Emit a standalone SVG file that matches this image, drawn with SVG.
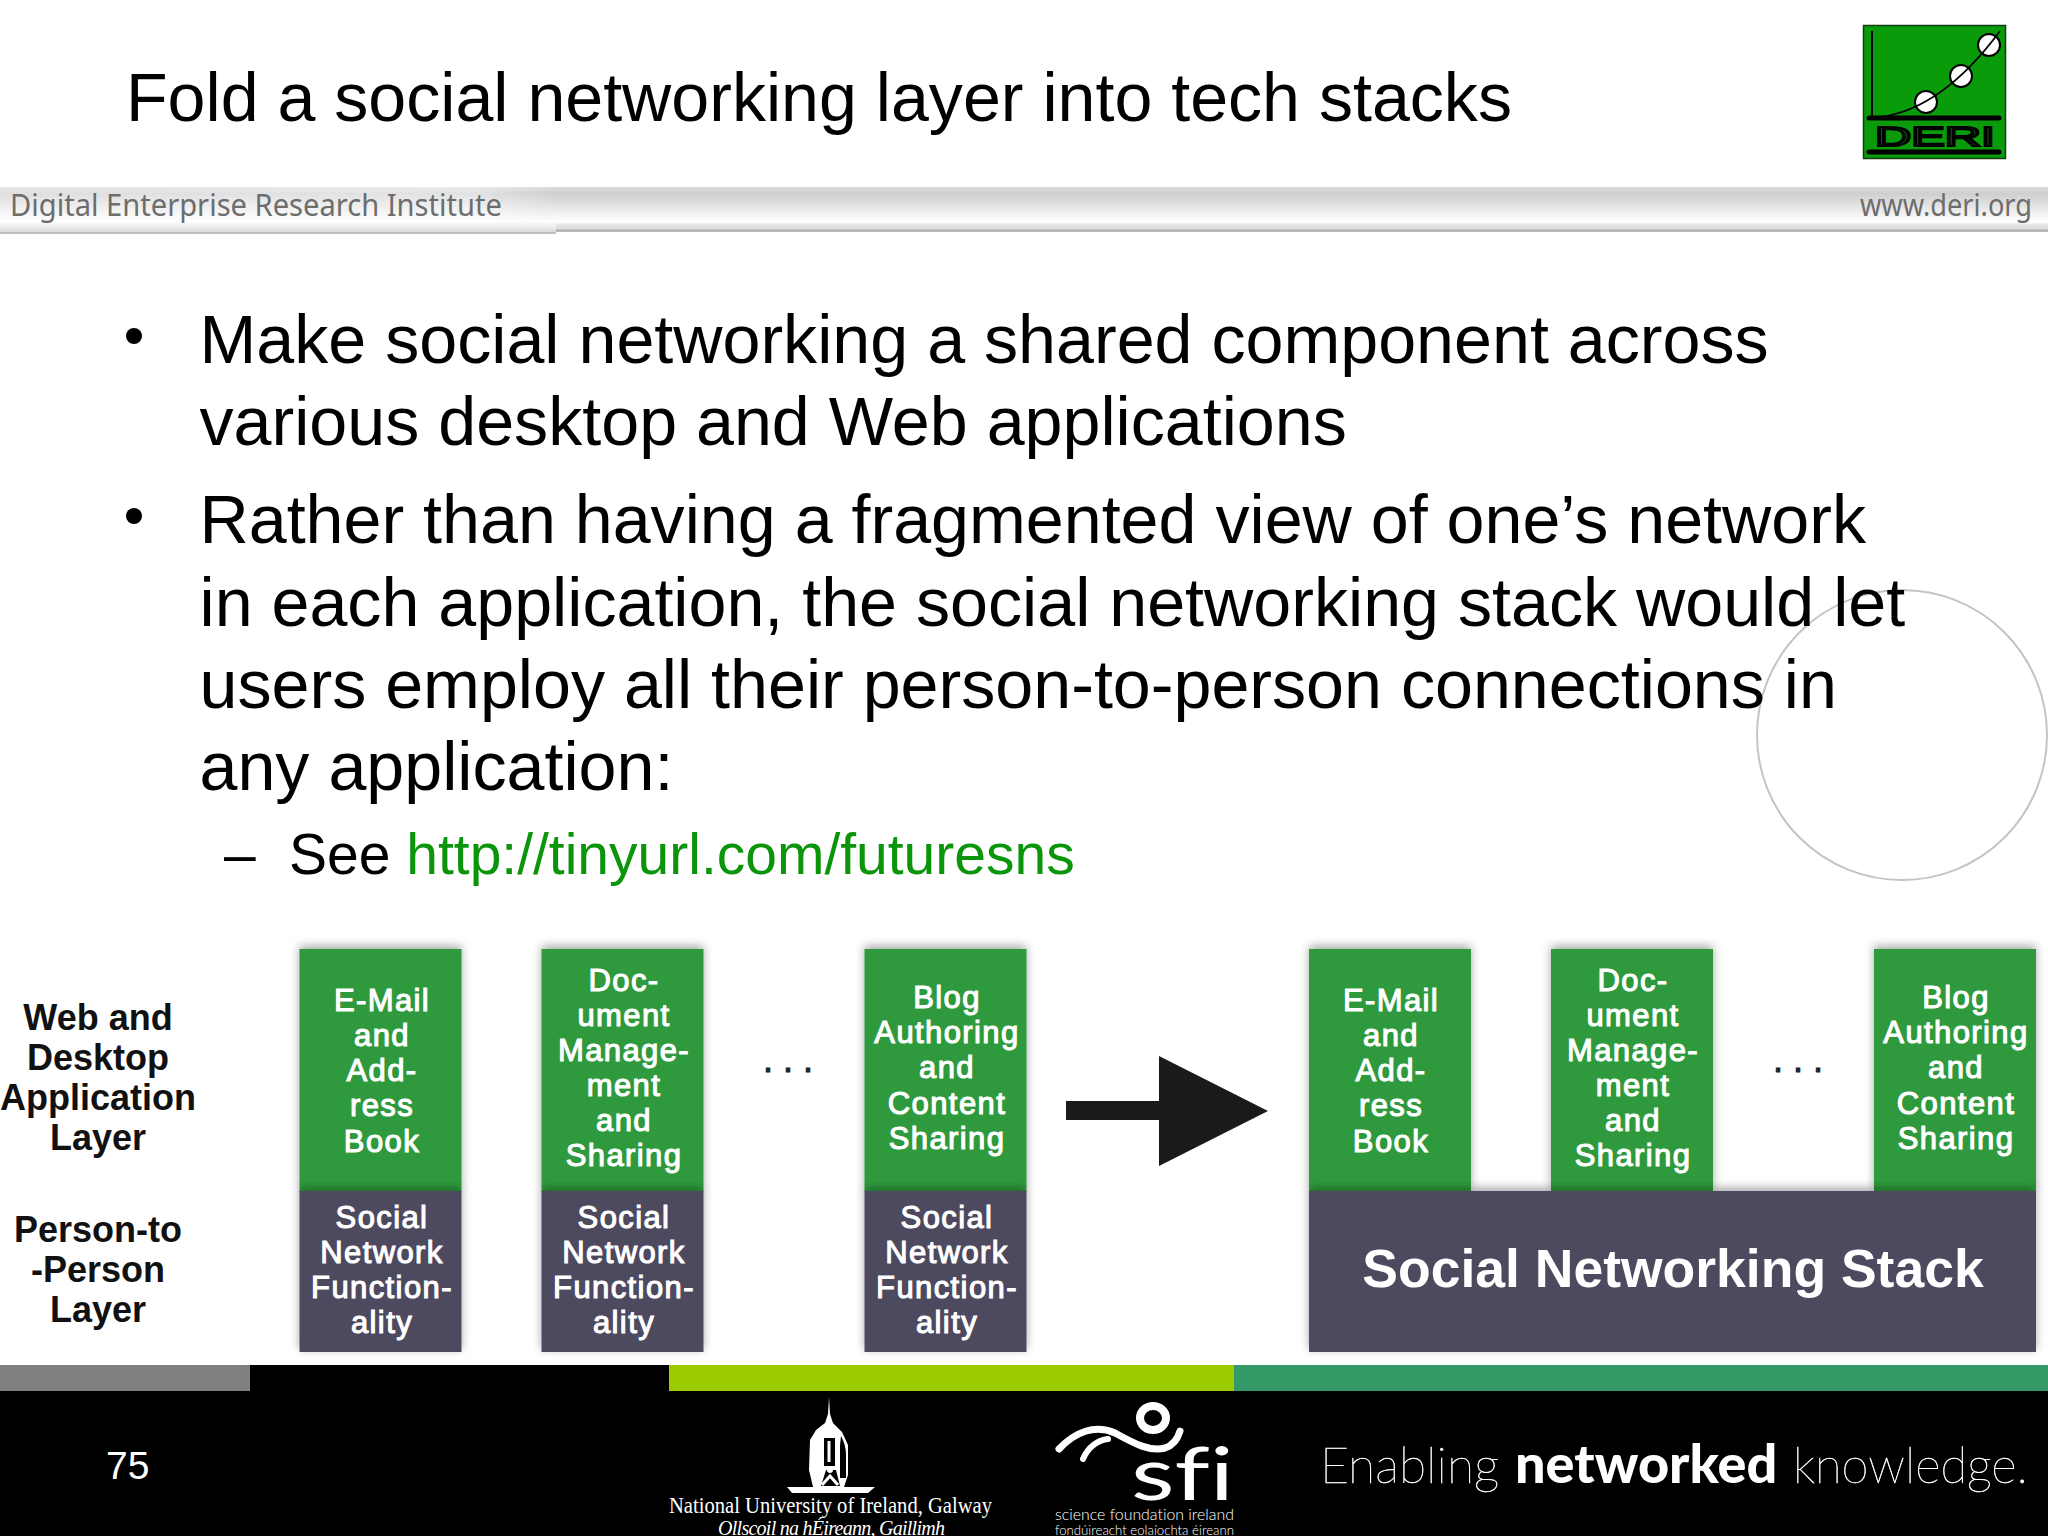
<svg xmlns="http://www.w3.org/2000/svg" width="2048" height="1536" viewBox="0 0 2048 1536">
<defs>
<linearGradient id="band" x1="0" y1="0" x2="0" y2="1"><stop offset="0" stop-color="#dcdcdc"/><stop offset="0.15" stop-color="#cfcfcf"/><stop offset="0.45" stop-color="#e6e6e6"/><stop offset="0.78" stop-color="#ffffff"/><stop offset="0.84" stop-color="#e6e6e6"/><stop offset="0.93" stop-color="#dcdcdc"/><stop offset="0.97" stop-color="#a8a8a8"/><stop offset="1" stop-color="#c8c8c8"/></linearGradient>
<linearGradient id="bandLow" x1="0" y1="0" x2="0" y2="1"><stop offset="0" stop-color="#fafafa"/><stop offset="0.45" stop-color="#ececec"/><stop offset="0.8" stop-color="#dcdcdc"/><stop offset="0.9" stop-color="#b0b0b0"/><stop offset="1" stop-color="#c8c8c8"/></linearGradient>
<linearGradient id="fade" x1="0" y1="0" x2="1" y2="0"><stop offset="0" stop-color="#fff" stop-opacity="0.35"/><stop offset="0.85" stop-color="#fff" stop-opacity="0.4"/><stop offset="1" stop-color="#fff" stop-opacity="0"/></linearGradient>
<filter id="sh" x="-20%" y="-20%" width="140%" height="140%"><feDropShadow dx="0" dy="-3" stdDeviation="5" flood-color="#000" flood-opacity="0.35"/></filter>
</defs>
<style>
text{font-family:"Liberation Sans",Arial,sans-serif}
.title{font-size:69px;fill:#000}
.body{font-size:68.200px;fill:#000}
.sub{font-size:57px;fill:#000}
.bar{font-family:"Noto Sans",sans-serif;fill:#6d6d6d}
.green{fill:#2e9a3c}
.dark{fill:#4e4a5e}
.bt{font-size:31px;letter-spacing:1.4px;fill:#fff;stroke:#fff;stroke-width:1.100px;text-anchor:middle}
.lab{font-size:36px;font-weight:bold;fill:#111;text-anchor:middle}
.dots{font-size:36px;fill:#222;stroke:#222;stroke-width:1px;letter-spacing:10px}
.foot{font-family:"Lato",sans-serif;fill:#fff;font-variant-ligatures:none}
</style>
<rect width="2048" height="1536" fill="#fff"/>

<g id="title"><text class="title" x="126" y="121" textLength="1386" lengthAdjust="spacingAndGlyphs">Fold a social networking layer into tech stacks</text></g>

<g id="logo">
<rect x="1863.500" y="25.500" width="142" height="133" fill="#0a9b0a" stroke="#143c14" stroke-width="1.5"/>
<path d="M1872 31V117" stroke="#000" stroke-width="2" fill="none"/>
<path d="M1869 118H1999M1869 152H1999" stroke="#000" stroke-width="5" stroke-linecap="round" fill="none"/>
<circle cx="1926" cy="102" r="11" fill="#fff" stroke="#000" stroke-width="2"/>
<circle cx="1961" cy="76" r="11" fill="#fff" stroke="#000" stroke-width="2"/>
<circle cx="1989" cy="45" r="11" fill="#fff" stroke="#000" stroke-width="2"/>
<path d="M1880 117C1920 112 1960 85 2000 31" stroke="#000" stroke-width="1.8" fill="none"/>
<text x="1875" y="146" font-size="28" fill="#0a9b0a" stroke="#000" stroke-width="2.200" textLength="120" lengthAdjust="spacingAndGlyphs">DERI</text>
</g>

<g id="header-band">
<rect x="0" y="187" width="2048" height="45" fill="url(#band)"/>
<rect x="0" y="187" width="556" height="35" fill="url(#fade)"/>
<rect x="0" y="222" width="556" height="12" fill="url(#bandLow)"/>
<text class="bar" x="10" y="216" font-size="30" textLength="492" lengthAdjust="spacingAndGlyphs">Digital Enterprise Research Institute</text>
<text class="bar" x="1860" y="216" font-size="30" textLength="172" lengthAdjust="spacingAndGlyphs">www.deri.org</text>
</g>

<g id="circle"><circle cx="1902" cy="735" r="145" fill="none" stroke="#c4c4c4" stroke-width="2"/></g>

<g id="bullets">
<circle cx="134" cy="336" r="8" fill="#000"/>
<circle cx="134" cy="516" r="8" fill="#000"/>
<text class="body" x="199.500" y="362.500">Make social networking a shared component across</text>
<text class="body" x="199.500" y="444.500">various desktop and Web applications</text>
<text class="body" x="199.500" y="543">Rather than having a fragmented view of one’s network</text>
<text class="body" x="199.500" y="625.500">in each application, the social networking stack would let</text>
<text class="body" x="199.500" y="707.500">users employ all their person-to-person connections in</text>
<text class="body" x="199.500" y="789.500">any application:</text>
<text class="sub" x="224" y="874">–</text>
<text class="sub" x="289" y="874">See <tspan fill="#0b950b">http://tinyurl.com/futuresns</tspan></text>
</g>

<g id="layer-labels">
<text class="lab"><tspan x="98" y="1030">Web and</tspan><tspan x="98" y="1070">Desktop</tspan><tspan x="98" y="1110">Application</tspan><tspan x="98" y="1150">Layer</tspan></text>
<text class="lab"><tspan x="98" y="1242">Person-to</tspan><tspan x="98" y="1282">-Person</tspan><tspan x="98" y="1322">Layer</tspan></text>
</g>

<g id="left-email">
<rect class="green" x="299.500" y="949" width="162" height="243" filter="url(#sh)"/>
<rect class="dark" x="299.500" y="1191" width="162" height="161" filter="url(#sh)"/>
<text class="bt"><tspan x="382" y="1011">E-Mail</tspan><tspan x="382" y="1046">and</tspan><tspan x="382" y="1081">Add-</tspan><tspan x="382" y="1116">ress</tspan><tspan x="382" y="1152">Book</tspan></text>
<text class="bt"><tspan x="382" y="1228">Social</tspan><tspan x="382" y="1263">Network</tspan><tspan x="382" y="1298">Function-</tspan><tspan x="382" y="1333">ality</tspan></text>
</g>
<g id="left-doc">
<rect class="green" x="541.500" y="949" width="162" height="243" filter="url(#sh)"/>
<rect class="dark" x="541.500" y="1191" width="162" height="161" filter="url(#sh)"/>
<text class="bt"><tspan x="624" y="991">Doc-</tspan><tspan x="624" y="1026">ument</tspan><tspan x="624" y="1061">Manage-</tspan><tspan x="624" y="1096">ment</tspan><tspan x="624" y="1131">and</tspan><tspan x="624" y="1166">Sharing</tspan></text>
<text class="bt"><tspan x="624" y="1228">Social</tspan><tspan x="624" y="1263">Network</tspan><tspan x="624" y="1298">Function-</tspan><tspan x="624" y="1333">ality</tspan></text>
</g>
<text class="dots" x="763" y="1072">...</text>
<g id="left-blog">
<rect class="green" x="864.500" y="949" width="162" height="243" filter="url(#sh)"/>
<rect class="dark" x="864.500" y="1191" width="162" height="161" filter="url(#sh)"/>
<text class="bt"><tspan x="947" y="1008">Blog</tspan><tspan x="947" y="1043">Authoring</tspan><tspan x="947" y="1078">and</tspan><tspan x="947" y="1114">Content</tspan><tspan x="947" y="1149">Sharing</tspan></text>
<text class="bt"><tspan x="947" y="1228">Social</tspan><tspan x="947" y="1263">Network</tspan><tspan x="947" y="1298">Function-</tspan><tspan x="947" y="1333">ality</tspan></text>
</g>

<g id="connectors"><path d="M1066 1101H1159V1056L1268 1111L1159 1166V1120H1066Z" fill="#1a1a18"/></g>

<g id="right-email">
<rect class="green" x="1309" y="949" width="162" height="243" filter="url(#sh)"/>
<text class="bt"><tspan x="1391" y="1011">E-Mail</tspan><tspan x="1391" y="1046">and</tspan><tspan x="1391" y="1081">Add-</tspan><tspan x="1391" y="1116">ress</tspan><tspan x="1391" y="1152">Book</tspan></text>
</g>
<g id="right-doc">
<rect class="green" x="1551" y="949" width="162" height="243" filter="url(#sh)"/>
<text class="bt"><tspan x="1633" y="991">Doc-</tspan><tspan x="1633" y="1026">ument</tspan><tspan x="1633" y="1061">Manage-</tspan><tspan x="1633" y="1096">ment</tspan><tspan x="1633" y="1131">and</tspan><tspan x="1633" y="1166">Sharing</tspan></text>
</g>
<text class="dots" x="1773" y="1072">...</text>
<g id="right-blog">
<rect class="green" x="1874" y="949" width="162" height="243" filter="url(#sh)"/>
<text class="bt"><tspan x="1956" y="1008">Blog</tspan><tspan x="1956" y="1043">Authoring</tspan><tspan x="1956" y="1078">and</tspan><tspan x="1956" y="1114">Content</tspan><tspan x="1956" y="1149">Sharing</tspan></text>
</g>
<g id="stack">
<rect class="dark" x="1309" y="1191" width="727" height="161" filter="url(#sh)"/>
<text x="1673" y="1287" font-size="53.500" font-weight="bold" fill="#fff" text-anchor="middle">Social Networking Stack</text>
</g>

<g id="footer">
<rect x="0" y="1391" width="2048" height="145" fill="#000"/>
<rect x="0" y="1365" width="250" height="26" fill="#808080"/>
<rect x="250" y="1365" width="419" height="26" fill="#000"/>
<rect x="669" y="1365" width="565" height="26" fill="#9ccc00"/>
<rect x="1234" y="1365" width="814" height="26" fill="#339966"/>
<text x="106" y="1479" font-size="39" fill="#fff">75</text>
</g>

<g id="nuig">
<path d="M829 1397L830 1414L833 1423L842 1432L848 1445V1475L844 1487L875 1487L868 1493H792L787 1487L813 1487L809 1470L810 1440L816 1430L825 1423L828 1414Z" fill="#fff"/>
<path d="M824 1438H835V1466H824Z" fill="#000"/>
<path d="M841 1436Q846 1445 846 1455V1478H840V1445Z" fill="#000"/>
<path d="M826 1470H836L840 1486H821Z" fill="#000"/>
<path d="M829 1441V1462" stroke="#fff" stroke-width="3"/>
<circle cx="830" cy="1470" r="3" fill="#fff"/>
<path d="M822 1485L830 1476L838 1485" fill="none" stroke="#fff" stroke-width="3"/>
<text x="669" y="1513" style="font-family:'Liberation Serif',serif" font-size="23" fill="#fff" textLength="323" lengthAdjust="spacingAndGlyphs">National University of Ireland, Galway</text>
<text x="718" y="1535" style="font-family:'Liberation Serif',serif;font-style:italic" font-size="20" fill="#fff" textLength="227" lengthAdjust="spacing">Ollscoil na hÉireann, Gaillimh</text>
</g>

<g id="sfi">
<ellipse cx="1153" cy="1418" rx="13" ry="12" fill="none" stroke="#fff" stroke-width="8"/>
<path d="M1059 1449C1075 1432 1095 1424 1115 1433C1135 1444 1150 1452 1165 1448C1174 1445 1178 1438 1180 1431" fill="none" stroke="#fff" stroke-width="7" stroke-linecap="round"/>
<path d="M1083 1459C1088 1447 1098 1440 1108 1439" fill="none" stroke="#fff" stroke-width="6" stroke-linecap="round"/>
<text class="foot" x="1131" y="1500" font-size="74" textLength="103" lengthAdjust="spacingAndGlyphs">sfi</text>
<text class="foot" x="1055" y="1520" font-size="15" font-weight="300" textLength="179" lengthAdjust="spacingAndGlyphs">science foundation ireland</text>
<text class="foot" x="1055" y="1535" font-size="13" font-weight="300" textLength="179" lengthAdjust="spacingAndGlyphs">fondúireacht eolaíochta éireann</text>
</g>

<g id="tagline">
<text class="foot" y="1483" font-size="49" stroke="#fff" stroke-width="0.500"><tspan x="1320" font-weight="100" font-size="50">Enabling </tspan><tspan x="1515" font-weight="900" font-size="54" stroke-width="0">networked </tspan><tspan x="1793" font-weight="100">knowledge.</tspan></text>
</g>
</svg>
